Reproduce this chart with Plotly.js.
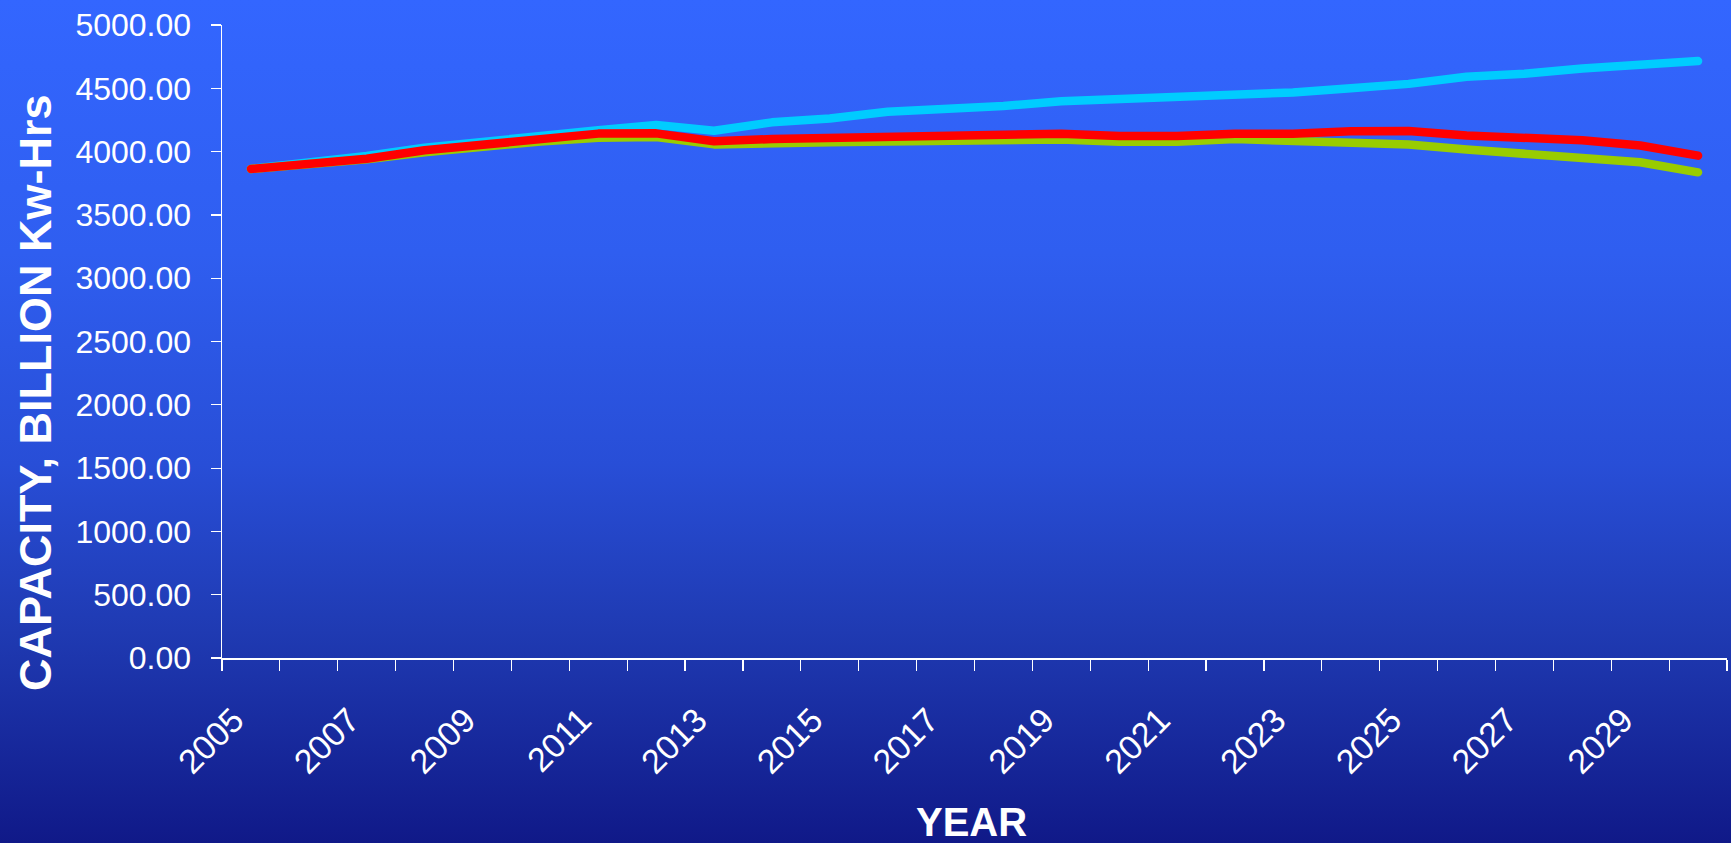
<!DOCTYPE html>
<html><head><meta charset="utf-8">
<script src="https://cdn.plot.ly/plotly-3.0.1.min.js"></script>
<style>
html,body{margin:0;padding:0;width:1731px;height:843px;overflow:hidden;}
body{background:linear-gradient(to bottom, rgb(51,102,255) 0%, rgb(47,94,240) 30%, rgb(40,78,215) 55%, rgb(31,58,178) 75%, rgb(16,25,136) 100%);}
#chart{width:1731px;height:843px;}
.js-line{stroke-linecap:round;stroke-linejoin:round;}
</style></head><body><div id="chart"></div>
<script>
const years = ['2005','2006','2007','2008','2009','2010','2011','2012','2013','2014','2015','2016','2017',
               '2018','2019','2020','2021','2022','2023','2024','2025','2026','2027','2028','2029','2030'];
const xTickLabels = ['2005','','2007','','2009','','2011','','2013','','2015','','2017',
                     '','2019','','2021','','2023','','2025','','2027','','2029',''];
const cyanSeries = [3863,3907,3965,4031,4080,4125,4168,4210,4165,4231,4262,4315,4334,
                    4360,4398,4414,4429,4447,4467,4500,4535,4591,4615,4657,4681,4715];
const greenSeries = [3863,3900,3940,3995,4040,4080,4110,4115,4057,4059,4073,4080,4080,
                     4080,4095,4078,4078,4099,4086,4059,4056,4016,3990,3950,3916,3836];
const redSeries = [3863,3902,3944,4010,4059,4100,4142,4144,4082,4099,4104,4121,4121,
                   4121,4141,4123,4123,4141,4141,4161,4163,4127,4108,4090,4048,3968];
const yTickVals = [0,500,1000,1500,2000,2500,3000,3500,4000,4500,5000];

const FONT = 'Liberation Sans, Arial, sans-serif';
const traces = [
  {x: years, y: cyanSeries, type: 'scatter', mode: 'lines', line: {color: '#00CCFF', width: 8.5}, hoverinfo: 'x+y'},
  {x: years, y: greenSeries, type: 'scatter', mode: 'lines', line: {color: '#99CC00', width: 8.5}, hoverinfo: 'x+y'},
  {x: years, y: redSeries, type: 'scatter', mode: 'lines', line: {color: '#FF0000', width: 8.5}, hoverinfo: 'x+y'}
];
const layout = {
  width: 1731, height: 843,
  paper_bgcolor: 'rgba(0,0,0,0)', plot_bgcolor: 'rgba(0,0,0,0)',
  margin: {l: 222, r: 4, t: 25, b: 185},
  showlegend: false,
  font: {family: FONT, color: '#FFFFFF'},
  xaxis: {
    type: 'category', range: [-0.5, 25.5], tickmode: 'array', tickvals: years, ticktext: xTickLabels,
    tickson: 'boundaries', ticks: 'outside', ticklen: 11, tickwidth: 1.2, tickcolor: '#FFFFFF',
    showline: true, linecolor: '#FFFFFF', linewidth: 1.5, showgrid: false, zeroline: false,
    tickangle: -45, tickfont: {family: FONT, size: 34, color: '#FFFFFF'},
    ticklabelstandoff: 27, ticklabelshift: -17
  },
  yaxis: {
    range: [0, 5000], tickmode: 'array', tickvals: yTickVals, tickformat: '.2f',
    ticks: 'outside', ticklen: 10, tickwidth: 1.2, tickcolor: '#FFFFFF',
    showline: true, linecolor: '#FFFFFF', linewidth: 1.5, showgrid: false, zeroline: false,
    tickfont: {family: FONT, size: 32, color: '#FFFFFF'}, ticklabelstandoff: 13
  },
  annotations: [
    {text: 'CAPACITY, BILLION Kw-Hrs', xref: 'paper', yref: 'paper', x: -0.1243, y: 0.42,
     xanchor: 'center', yanchor: 'middle', textangle: -90, showarrow: false,
     font: {family: FONT, size: 45, color: '#FFFFFF', weight: 'bold'}},
    {text: 'YEAR', xref: 'paper', yref: 'paper', x: 0.498, y: -0.259,
     xanchor: 'center', yanchor: 'middle', showarrow: false,
     font: {family: FONT, size: 40, color: '#FFFFFF', weight: 'bold'}}
  ]
};
Plotly.newPlot('chart', traces, layout, {displayModeBar: false, staticPlot: true});
</script>
</body></html>
